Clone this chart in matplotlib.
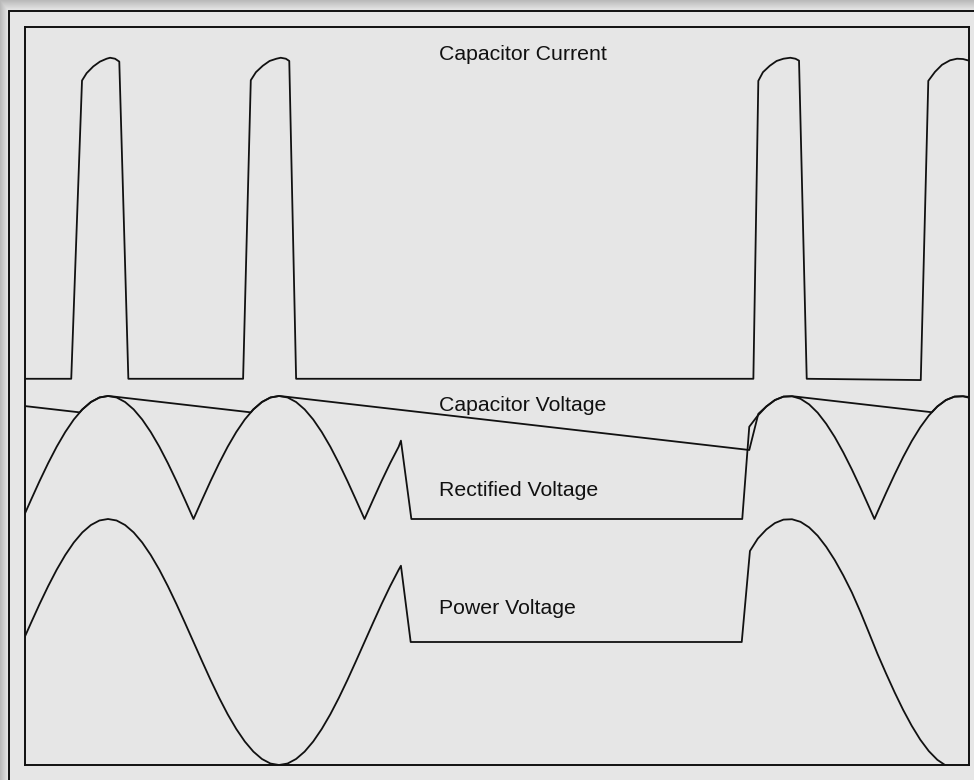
import numpy as np
import matplotlib.pyplot as plt

BG = '#e6e6e6'
INK = '#111111'
FIG_W, FIG_H = 974, 780
FONT = 'Liberation Sans'

# time base in ms (50 Hz mains, 20 ms period)
power_t = [0.0, 0.5, 1.0, 1.5, 2.0, 2.5, 3.0, 3.5, 4.0, 4.5, 5.0, 5.5, 6.0, 6.5, 7.0, 7.5,
           8.0, 8.5, 9.0, 9.5, 10.0, 10.5, 11.0, 11.5, 12.0, 12.5, 13.0, 13.5, 14.0, 14.5,
           15.0, 15.5, 16.0, 16.5, 17.0, 17.5, 18.0, 18.5, 19.0, 19.5, 20.0, 20.5, 21.0,
           21.5, 22.0, 22.13, 22.70, 42.06, 42.54, 43.0, 43.5, 44.0, 44.5, 45.0, 45.5,
           46.0, 46.5, 47.0, 47.5, 48.0, 48.5, 49.0, 49.5, 50.0, 50.5, 51.0, 51.5, 52.0,
           52.5, 53.0, 53.5, 54.0, 54.5, 55.0, 55.35]
power_v = [0.0, 0.156, 0.309, 0.454, 0.588, 0.707, 0.809, 0.891, 0.951, 0.988, 1.0, 0.988,
           0.951, 0.891, 0.809, 0.707, 0.588, 0.454, 0.309, 0.156, 0.0, -0.156, -0.309,
           -0.454, -0.588, -0.707, -0.809, -0.891, -0.951, -0.988, -1.0, -0.988, -0.951,
           -0.891, -0.809, -0.707, -0.588, -0.454, -0.309, -0.156, 0.0, 0.156, 0.309,
           0.454, 0.588, 0.62, 0.0, 0.0, 0.74, 0.841, 0.915, 0.967, 0.995, 0.998, 0.977,
           0.932, 0.864, 0.774, 0.666, 0.541, 0.403, 0.245, 0.075, -0.097, -0.256, -0.409,
           -0.552, -0.681, -0.794, -0.887, -0.958, -1.005, -1.028, -1.026, -1.008]

rect_t = [0.0, 0.5, 1.0, 1.5, 2.0, 2.5, 3.0, 3.5, 4.0, 4.5, 5.0, 5.5, 6.0, 6.5, 7.0, 7.5,
          8.0, 8.5, 9.0, 9.5, 10.0, 10.5, 11.0, 11.5, 12.0, 12.5, 13.0, 13.5, 14.0, 14.5,
          15.0, 15.5, 16.0, 16.5, 17.0, 17.5, 18.0, 18.5, 19.0, 19.5, 20.0, 20.5, 21.0,
          21.5, 22.0, 22.13, 22.74, 42.09, 42.50, 43.0, 43.5, 44.0, 44.5, 45.0, 45.5,
          46.0, 46.5, 47.0, 47.5, 48.0, 48.5, 49.0, 49.5, 49.82, 50.0, 50.5, 51.0, 51.5,
          52.0, 52.5, 53.0, 53.5, 54.0, 54.5, 55.0, 55.35]
rect_v = [0.0, 0.156, 0.309, 0.454, 0.588, 0.707, 0.809, 0.891, 0.951, 0.988, 1.0, 0.988,
          0.951, 0.891, 0.809, 0.707, 0.588, 0.454, 0.309, 0.156, 0.0, 0.156, 0.309,
          0.454, 0.588, 0.707, 0.809, 0.891, 0.951, 0.988, 1.0, 0.988, 0.951, 0.891,
          0.809, 0.707, 0.588, 0.454, 0.309, 0.156, 0.0, 0.156, 0.309, 0.454, 0.588,
          0.637, 0.0, 0.0, 0.75, 0.841, 0.915, 0.967, 0.995, 0.998, 0.977, 0.932, 0.864,
          0.774, 0.666, 0.541, 0.403, 0.255, 0.100, 0.0, 0.057, 0.212, 0.362, 0.504,
          0.633, 0.746, 0.841, 0.915, 0.967, 0.995, 0.998, 0.986]

cap_t = [0.15, 3.34, 3.5, 4.0, 4.5, 5.0, 5.3, 13.35, 13.5, 14.0, 14.5, 15.0, 15.3, 42.5,
         43.03, 43.5, 44.0, 44.5, 45.0, 45.1, 53.17, 53.5, 54.0, 54.5, 55.0, 55.35]
cap_v = [0.918, 0.867, 0.891, 0.951, 0.988, 1.0, 0.996, 0.867, 0.891, 0.951, 0.988, 1.0,
         0.996, 0.561, 0.855, 0.915, 0.967, 0.995, 0.998, 0.997, 0.868, 0.915, 0.967,
         0.995, 0.998, 0.992]

cur_t = [0.15, 2.85, 3.48, 3.75, 4.14, 4.53, 4.92, 5.12, 5.41, 5.66, 6.19,
         12.9, 13.35, 13.65, 14.05, 14.45, 14.85, 15.1, 15.4, 15.6, 16.0,
         42.74, 43.03, 43.3, 43.7, 44.1, 44.5, 44.9, 45.2, 45.41, 45.86,
         52.53, 52.97, 53.36, 53.77, 54.24, 54.65, 55.0, 55.35]
cur_v = [0.0, 0.0, 0.929, 0.952, 0.973, 0.988, 0.997, 1.0, 0.997, 0.988, 0.0,
         0.0, 0.93, 0.955, 0.975, 0.99, 0.997, 1.0, 0.997, 0.99, 0.0,
         0.0, 0.928, 0.955, 0.975, 0.99, 0.997, 1.0, 0.997, 0.991, 0.0,
         -0.004, 0.928, 0.956, 0.978, 0.992, 0.997, 0.996, 0.991]

labels = ['Capacitor Current', 'Capacitor Voltage', 'Rectified Voltage', 'Power Voltage']

# vertical placement of each trace: (offset, gain)
POWER_POS = (1.0, 1.0)
RECT_POS = (2.0, 1.0)
CUR_POS = (3.14, 2.61)
LABEL_X = 24.35
LABEL_Y = [5.774, 2.924, 2.234, 1.274]


def add_window_frame(fig):
    ''' light drop shadow and outer frame around the plot window '''
    bg = fig.add_axes([0, 0, 1, 1])
    bg.set_xlim(0, FIG_W)
    bg.set_ylim(FIG_H, 0)
    bg.axis('off')

    xx, yy = np.meshgrid(np.arange(FIG_W) + 0.5, np.arange(FIG_H) + 0.5)
    shade = np.maximum(np.clip((8 - xx) / 8, 0, 1), np.clip((10 - yy) / 10, 0, 1))
    base = np.array([0.902, 0.902, 0.902])
    img = base[None, None, :] * (1 - 0.2 * shade[..., None])
    bg.imshow(img, extent=(0, FIG_W, FIG_H, 0), interpolation='bilinear', aspect='auto')

    bg.plot([8.5, 8.5, FIG_W + 5], [FIG_H + 5, 10.5, 10.5], color=INK, lw=1.4,
            solid_joinstyle='miter')


def trace(ax, t, v, pos):
    offset, gain = pos
    ax.plot(t, offset + gain * np.asarray(v), color=INK, lw=1.3, solid_joinstyle='round')


def main():
    fig = plt.figure(figsize=(FIG_W / 100, FIG_H / 100), dpi=100, facecolor=BG)
    add_window_frame(fig)

    ax = fig.add_axes([25 / FIG_W, 15 / FIG_H, 944 / FIG_W, 738 / FIG_H])
    ax.set_facecolor('none')
    ax.set_xlim(0.146, 55.35)
    ax.set_ylim(0, 6.0)
    ax.set_xticks([])
    ax.set_yticks([])
    for sp in ax.spines.values():
        sp.set_linewidth(1.4)
        sp.set_color(INK)

    trace(ax, power_t, power_v, POWER_POS)
    trace(ax, rect_t, rect_v, RECT_POS)
    trace(ax, cap_t, cap_v, RECT_POS)
    trace(ax, cur_t, cur_v, CUR_POS)

    for text, y in zip(labels, LABEL_Y):
        ax.text(LABEL_X, y, text, ha='left', va='center', fontsize=15.3,
                family=FONT, color=INK)

    fig.savefig('out.png', dpi=100, facecolor=BG)


if __name__ == "__main__":
    main()
